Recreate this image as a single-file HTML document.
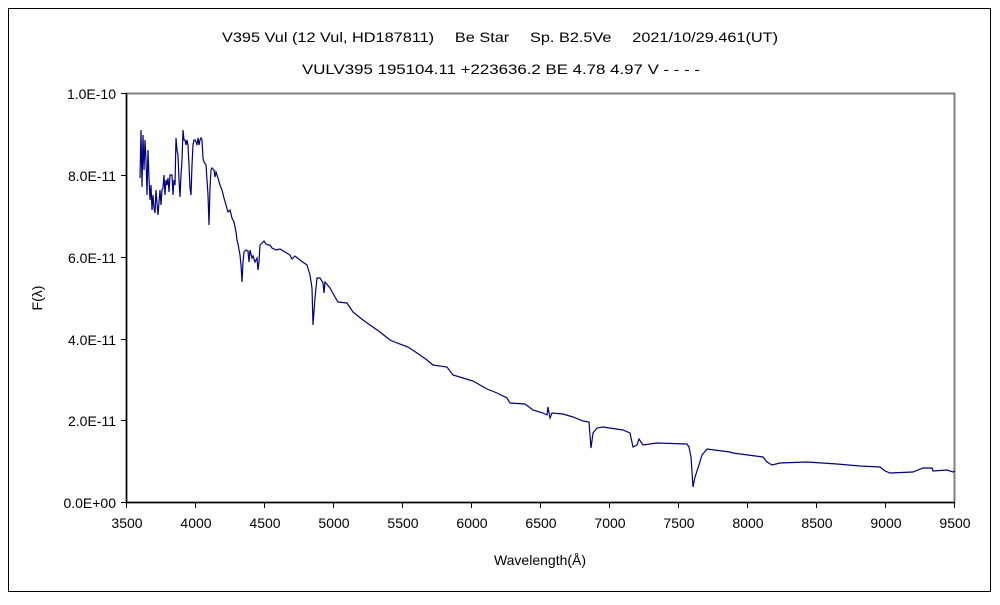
<!DOCTYPE html>
<html><head><meta charset="utf-8"><style>
body{margin:0;background:#fff;}
text{font-family:"Liberation Sans","Noto Sans CJK JP",sans-serif;font-size:14px;fill:#000;}
</style></head><body>
<svg width="1000" height="600" viewBox="0 0 1000 600" xmlns="http://www.w3.org/2000/svg">
<rect x="0" y="0" width="1000" height="600" fill="#fff"/>
<rect x="8.5" y="8.5" width="982" height="583" fill="none" stroke="#000" stroke-width="1"/>
<text x="222" y="42" textLength="556" lengthAdjust="spacingAndGlyphs">V395 Vul (12 Vul, HD187811)　 Be Star　 Sp. B2.5Ve　 2021/10/29.461(UT)</text>
<text x="302" y="74" textLength="398" lengthAdjust="spacingAndGlyphs">VULV395 195104.11 +223636.2 BE 4.78 4.97 V - - - -</text>
<rect x="126.5" y="93.5" width="828" height="409" fill="none" stroke="#808080" stroke-width="2"/>
<line x1="126.5" y1="93" x2="126.5" y2="503" stroke="#000" stroke-width="1.5"/>
<line x1="126" y1="502.5" x2="955" y2="502.5" stroke="#000" stroke-width="1.5"/>
<g stroke="#000" stroke-width="1">
<line x1="121" y1="93.5" x2="126" y2="93.5"/><line x1="121" y1="175.5" x2="126" y2="175.5"/><line x1="121" y1="257.5" x2="126" y2="257.5"/><line x1="121" y1="339.5" x2="126" y2="339.5"/><line x1="121" y1="420.5" x2="126" y2="420.5"/><line x1="121" y1="502.5" x2="126" y2="502.5"/>
<line x1="126.5" y1="502" x2="126.5" y2="508"/><line x1="195.5" y1="502" x2="195.5" y2="508"/><line x1="264.5" y1="502" x2="264.5" y2="508"/><line x1="333.5" y1="502" x2="333.5" y2="508"/><line x1="402.5" y1="502" x2="402.5" y2="508"/><line x1="471.5" y1="502" x2="471.5" y2="508"/><line x1="540.5" y1="502" x2="540.5" y2="508"/><line x1="609.5" y1="502" x2="609.5" y2="508"/><line x1="678.5" y1="502" x2="678.5" y2="508"/><line x1="747.5" y1="502" x2="747.5" y2="508"/><line x1="816.5" y1="502" x2="816.5" y2="508"/><line x1="885.5" y1="502" x2="885.5" y2="508"/><line x1="954.5" y1="502" x2="954.5" y2="508"/>
</g>
<g text-anchor="end">
<text x="116" y="99">1.0E-10</text><text x="116" y="181">8.0E-11</text><text x="116" y="263">6.0E-11</text><text x="116" y="345">4.0E-11</text><text x="116" y="426">2.0E-11</text><text x="116" y="508">0.0E+00</text>
</g>
<g text-anchor="middle">
<text x="127" y="528">3500</text><text x="196" y="528">4000</text><text x="265" y="528">4500</text><text x="334" y="528">5000</text><text x="403" y="528">5500</text><text x="472" y="528">6000</text><text x="541" y="528">6500</text><text x="610" y="528">7000</text><text x="679" y="528">7500</text><text x="748" y="528">8000</text><text x="817" y="528">8500</text><text x="886" y="528">9000</text><text x="955" y="528">9500</text>
<text x="540" y="565">Wavelength(Å)</text>
</g>
<text x="42" y="298" text-anchor="middle" transform="rotate(-90 42 298)">F(λ)</text>
<polyline fill="none" stroke="#000080" stroke-width="1.2" points="140,178 141,130 142,187 143,135 144,170 145,140 146,160 147,195 148,150 149,178 150,200 151,185 152,210 153,195 154,208 155,213 156,190 157,203 158,215 160,190 161,205 162,190 163,188 164,175 165,195 166,180 167,185 168,178 169,192 170,175 172,175 173,195 174,180 175,185 176,138 177,150 178,155 179,180 180,197 181,175 182,160 183,130 184,140 185,140 186,145 187,140 188,145 189,165 190,188 191,195 192,165 193,145 194,140 195,140 196,142 197,145 198,138 199,145 200,140 201,138 202,140 203,158 204,162 206,165 207,180 208,195 209,225 210,188 211,170 212,168 214,170 215,177 216,172 218,178 220,185 222,190 224,198 226,205 228,212 230,210 232,218 234,222 236,232 237,240 238,244 240,255 241,265 242,282 243,262 244,252 246,250 248,251 249,262 250,250 252,258 253,256 255,262 257,258 258,270 259,262 260,245 262,243 264,241 266,244 268,245 270,245 272,248 276,250 280,249 290,255 292,259 295,256 300,260 307,265 310,275 312,288 313,325 315,298 317,278 320,278 323,283 324,293 325,282 330,288 335,297 338,302 347,303 353,312 363,320 370,325 380,332 390,340 397,343 408,347 417,353 427,360 433,365 447,367 453,375 463,378 473,381 480,385 487,389 497,393 507,398 510,403 525,404 533,410 543,413 547,415 548,407 550,418 552,413 563,414 573,417 583,421 589,422 591,448 593,433 597,428 603,427 623,430 630,433 633,447 637,445 639,439 643,445 657,443 687,444 689,447 691,457 693,487 695,477 698,468 702,455 707,449 730,452 733,453 763,457 767,462 772,465 780,463 807,462 837,464 860,466 880,467 885,471 890,473 913,472 923,468 932,468 933,471 947,470 953,472 955,471"/>
</svg>
</body></html>
